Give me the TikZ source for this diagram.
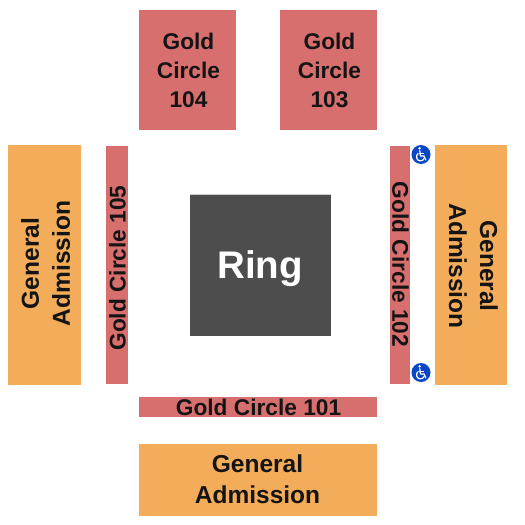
\documentclass[tikz,border=0pt]{standalone}
\usepackage{fontspec}
\setmainfont{Liberation Sans}
\definecolor{goldc}{HTML}{D86F6F}
\definecolor{gac}{HTML}{F3AC59}
\definecolor{ringc}{HTML}{4D4D4D}
\definecolor{wheelc}{HTML}{0A47C8}
\tikzset{
  x=1pt,y=-1pt,
  seat/.style={inner sep=0pt,outer sep=0pt,align=center,font=\bfseries\fontsize{22.7}{29}\selectfont,text=black!92},
  gaseat/.style={seat,font=\bfseries\fontsize{24.5}{31}\selectfont},
  gold/.style={seat,fill=goldc},
  genadm/.style={seat,fill=gac},
  ringbox/.style={seat,fill=ringc},
  ringtext/.style={seat,text=white,font=\bfseries\fontsize{38.5}{45}\selectfont},
  wheel/.style={circle,fill=wheelc,minimum size=19pt,inner sep=0pt},
  wheelline/.style={white,line width=1.2pt,line cap=round,line join=round}
}
\newcommand{\wheelicon}[1]{%
  \begin{scope}[shift={(#1)}]
    \fill[white] (-1.4,-6.2) circle (1.4);
    \draw[wheelline] (-1.2,-3.8) -- (-0.6,1.4) -- (3,1.4) -- (4.8,5.4);
    \draw[wheelline] (-1,-1) -- (2.6,-1);
    \draw[wheelline] (-2.8,-1) .. controls (-5.6,0.6) and (-4.8,6.4) .. (-0.8,6.4) .. controls (1.2,6.4) and (2.8,5.4) .. (3.2,3.8);
  \end{scope}}
\begin{document}
\begin{tikzpicture}
\useasboundingbox (0,0) rectangle (525,525);
\fill[white] (0,0) rectangle (525,525);
\node[gold,minimum width=97pt,minimum height=120pt] (g104) at (187.5,70) {};
\node[seat] (g104t) at (188.5,70) {Gold\\Circle\\104};
\node[gold,minimum width=97pt,minimum height=120pt] (g103) at (328.5,70) {};
\node[seat] (g103t) at (329.5,70) {Gold\\Circle\\103};
\node[genadm,minimum width=73pt,minimum height=240pt] (gaL) at (44.5,265) {};
\node[gaseat,rotate=90] (gaLt) at (45.5,263.5) {General\\Admission};
\node[gold,minimum width=22pt,minimum height=238pt] (g105) at (117,265) {};
\node[seat,rotate=90] (g105t) at (117.5,268) {Gold Circle 105};
\node[ringbox,minimum width=141pt,minimum height=142pt] (ring) at (260.5,265) {};
\node[ringtext] (ringt) at (260,269) {Ring};
\draw[black!20,line width=0.8pt] (ring.north west) -- (ring.north east);
\node[gold,minimum width=20pt,minimum height=238pt] (g102) at (400,265) {};
\node[seat,rotate=-90] (g102t) at (400.5,264.5) {Gold Circle 102};
\node[genadm,minimum width=72pt,minimum height=240pt] (gaR) at (471,265) {};
\node[gaseat,rotate=-90] (gaRt) at (473.5,266) {General\\Admission};
\node[gold,minimum width=238pt,minimum height=20pt] (g101) at (258,407) {};
\node[seat] (g101t) at (258.5,407) {Gold Circle 101};
\node[genadm,minimum width=238pt,minimum height=72pt] (gaB) at (258,480) {};
\node[gaseat] (gaBt) at (257.5,479.5) {General\\Admission};
\node[wheel] (w1) at (421,154.5) {};
\node[wheel] (w2) at (421,372.5) {};
\wheelicon{421,154.5}
\wheelicon{421,372.5}
\end{tikzpicture}
\end{document}
